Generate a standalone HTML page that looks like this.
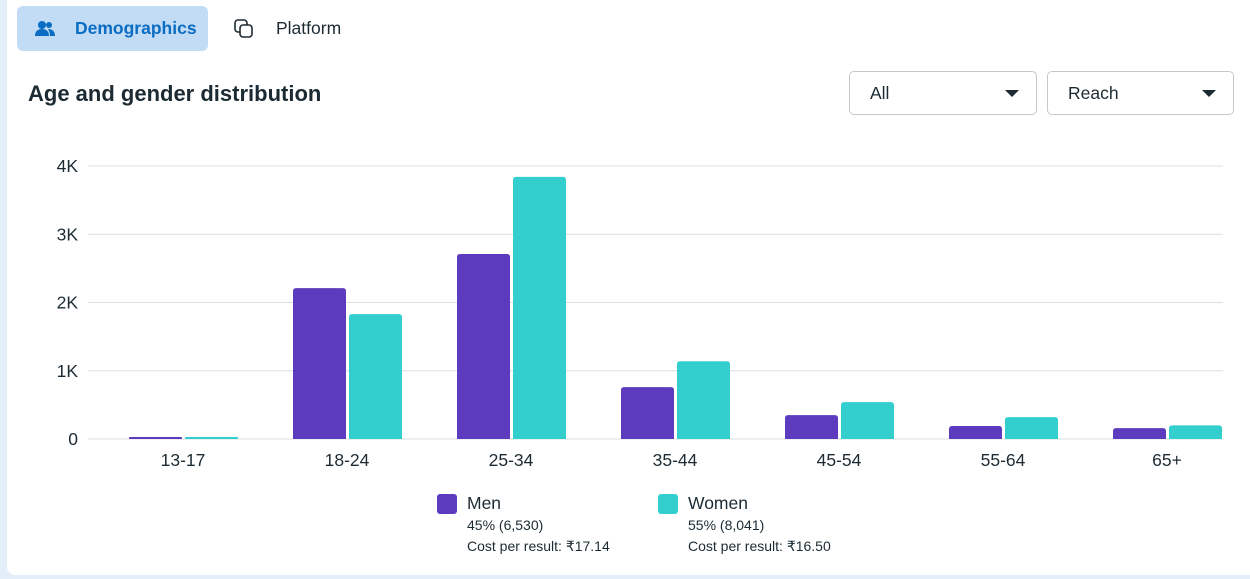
<!DOCTYPE html>
<html><head><meta charset="utf-8">
<style>
html,body{margin:0;padding:0;width:1250px;height:579px;overflow:hidden;background:#e4eef9;font-family:"Liberation Sans",sans-serif;color:#1c2b33}
#card{position:absolute;left:7px;top:-10px;width:1260px;height:585px;background:#fff;border-radius:8px}
.tab{position:absolute;top:6px;height:45px;border-radius:6px;font-size:17.5px;display:flex;align-items:center}
#tab-demo{left:17px;width:191px;background:#c3dcf5;color:#0a6cc2;font-weight:bold}
#tab-plat{left:225px;width:140px;color:#1c2b33}
h1{position:absolute;left:28px;top:81px;margin:0;font-size:22px;font-weight:bold;color:#1c2b33}
.dd{position:absolute;top:71px;height:44px;border:1px solid #c3c8ce;border-radius:5px;background:#fff;font-size:17.5px;display:flex;align-items:center;box-sizing:border-box}
.dd span{margin-left:20px}
.dd i{position:absolute;right:17px;top:18px;width:0;height:0;border-left:7px solid transparent;border-right:7px solid transparent;border-top:7px solid #1c2b33}
.leg{position:absolute;top:492px;font-size:14px;line-height:21px}
.leg .sw{position:absolute;left:0;top:2px;width:20px;height:20px;border-radius:3px}
.leg .t{margin-left:30px;font-size:17.5px;line-height:23px}
.leg .s{margin-left:30px}
</style></head><body>
<div id="card"></div>
<div class="tab" id="tab-demo">
<svg width="22" height="18" style="margin-left:17px" viewBox="0 0 22 18"><circle cx="8" cy="5" r="4" fill="#0a6cc2"/><path d="M1 16c0-5 3-7 7-7s7 2 7 7z" fill="#0a6cc2"/><circle cx="15" cy="5" r="3" fill="#0a6cc2"/><path d="M14 9c4 0 7 2 7 7h-5c0-3-1-5-2-7z" fill="#0a6cc2"/></svg>
<span style="margin-left:19px">Demographics</span></div>
<div class="tab" id="tab-plat">
<svg width="22" height="22" style="margin-left:8px" viewBox="0 0 22 22"><rect x="2" y="2" width="12" height="12" rx="3" fill="none" stroke="#1c2b33" stroke-width="1.6"/><rect x="7" y="7" width="12" height="12" rx="3" fill="#fff" stroke="#1c2b33" stroke-width="1.6"/></svg>
<span style="margin-left:21px">Platform</span></div>
<h1>Age and gender distribution</h1>
<div class="dd" style="left:849px;width:188px"><span>All</span><i></i></div>
<div class="dd" style="left:1047px;width:187px"><span>Reach</span><i></i></div>
<svg id="chart" width="1250" height="579" style="position:absolute;left:0;top:0"></svg>
<div class="leg" style="left:437px"><div class="sw" style="background:#5c3bbf"></div><div class="t">Men</div><div class="s">45% (6,530)</div><div class="s">Cost per result: ₹17.14</div></div>
<div class="leg" style="left:658px"><div class="sw" style="background:#33cfce"></div><div class="t">Women</div><div class="s">55% (8,041)</div><div class="s">Cost per result: ₹16.50</div></div>
<script>
const categories=["13-17","18-24","25-34","35-44","45-54","55-64","65+"];
const men=[0.02,2.21,2.71,0.76,0.35,0.19,0.16];
const women=[0.02,1.83,3.84,1.14,0.54,0.32,0.20];
const yTicks=[0,1,2,3,4];
const yTickLabels=["0","1K","2K","3K","4K"];
const NS="http://www.w3.org/2000/svg";
const svg=document.getElementById('chart');
const y0=439,pxPerK=68.25,xStart=101,band=164;
const yScale=v=>y0-v*pxPerK;
const xCenter=i=>xStart+band*i+band/2;
function mk(tag,attrs){const e=document.createElementNS(NS,tag);for(const k in attrs)e.setAttribute(k,attrs[k]);svg.appendChild(e);return e;}
yTicks.forEach((t,i)=>{
  const l=mk('line',{x1:88,x2:1223,y1:yScale(t),y2:yScale(t),stroke:'#dcdfe3','stroke-width':1});
  
  
  const tx=mk('text',{x:78,y:yScale(t)+6,'text-anchor':'end','font-size':17.5,fill:'#1c2b33','font-family':'Liberation Sans, sans-serif'});
  tx.textContent=yTickLabels[i];
  
  
});
function bar(x,v,color){
  const h=Math.max(v*pxPerK,2),y=y0-h,w=53,r=Math.min(3,h/2);
  const d=`M${x},${y0}V${y+r}Q${x},${y} ${x+r},${y}H${x+w-r}Q${x+w},${y} ${x+w},${y+r}V${y0}Z`;
  return mk('path',{d:d,fill:color});
}
categories.forEach((c,i)=>{
  const cx=xCenter(i);
  const b1=bar(cx-54,men[i],'#5c3bbf');
  
  
  const b2=bar(cx+2,women[i],'#33cfce');
  
  
  const t=mk('text',{x:cx,y:466,'text-anchor':'middle','font-size':17.5,fill:'#1c2b33','font-family':'Liberation Sans, sans-serif'});
  t.textContent=c;
  
  
});
</script>
</body></html>
